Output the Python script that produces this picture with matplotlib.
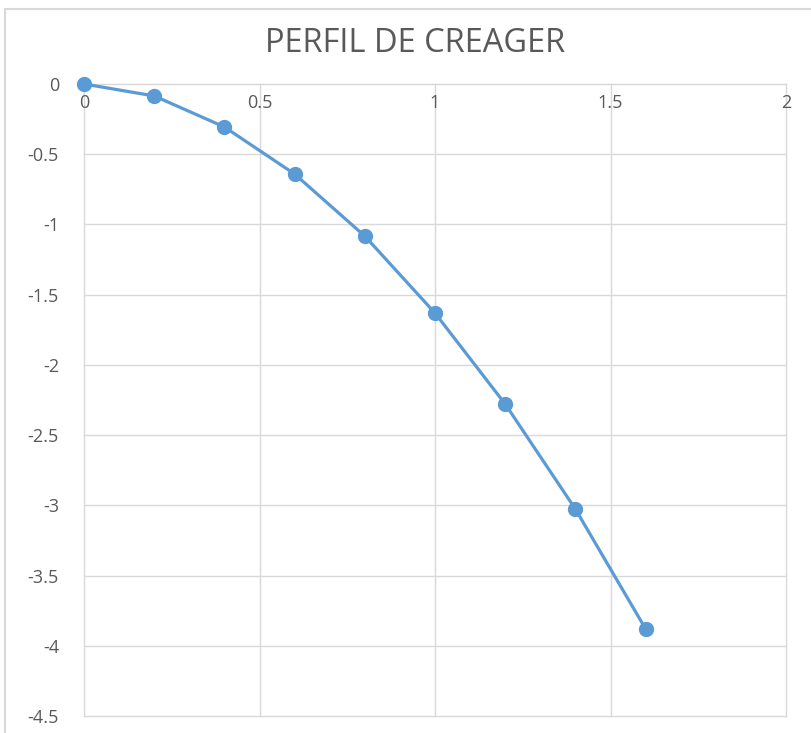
import matplotlib.pyplot as plt
from matplotlib.patches import Rectangle

# perfil Creager: abscisa x y ordenada y (m)
x_vals = [0.0, 0.2, 0.4, 0.6, 0.8, 1.0, 1.2, 1.4, 1.6]
y_vals = [0.0, -0.085, -0.306, -0.641, -1.083, -1.631, -2.279, -3.027, -3.88]

x_ticks = [0, 0.5, 1, 1.5, 2]
x_tick_labels = ['0', '0.5', '1', '1.5', '2']
y_ticks = [0, -0.5, -1, -1.5, -2, -2.5, -3, -3.5, -4, -4.5]
y_tick_labels = ['0', '-0.5', '-1', '-1.5', '-2', '-2.5', '-3', '-3.5', '-4', '-4.5']

plt.rcParams['font.family'] = ['Open Sans', 'DejaVu Sans']
gris = '#595959'
rejilla = '#D9D9D9'
azul = '#5B9BD5'

fig = plt.figure(figsize=(8.11, 7.33), dpi=100)
fig.patch.set_facecolor('white')

# marco del grafico
fig.patches.append(Rectangle((5 / 811, -0.1), 1.2, 1 - 9 / 733 + 0.1,
                             transform=fig.transFigure, fill=False,
                             edgecolor=rejilla, linewidth=1.5))

ax = fig.add_axes([84 / 811, 1 - 716 / 733, (786 - 84) / 811, (716 - 84) / 733])
ax.plot(x_vals, y_vals, color=azul, linewidth=2.3, marker='o',
        markersize=10, markerfacecolor=azul, markeredgecolor=azul,
        zorder=3, clip_on=False)

ax.set_xlim(0, 2)
ax.set_ylim(-4.5, 0)
ax.set_xticks(x_ticks)
ax.set_xticklabels(x_tick_labels)
ax.set_yticks(y_ticks)
ax.set_yticklabels(y_tick_labels)

# eje x en y=0, etiquetas debajo de la linea superior
ax.spines['bottom'].set_position(('data', 0))
for s in ['top', 'right', 'left']:
    ax.spines[s].set_visible(False)
ax.spines['bottom'].set_color(rejilla)

ax.grid(True, color=rejilla, linewidth=1)
ax.set_axisbelow(True)
ax.tick_params(axis='x', length=0, pad=7, labelsize=13, labelcolor=gris)
ax.tick_params(axis='y', length=0, pad=18, labelsize=13, labelcolor=gris)
for gl in ax.get_xgridlines() + ax.get_ygridlines():
    gl.set_clip_on(False)

fig.text(0.512, 1 - 44 / 733, 'PERFIL DE CREAGER', ha='center', va='center',
         fontsize=23.5, color=gris)

fig.savefig('out.png', dpi=100)
